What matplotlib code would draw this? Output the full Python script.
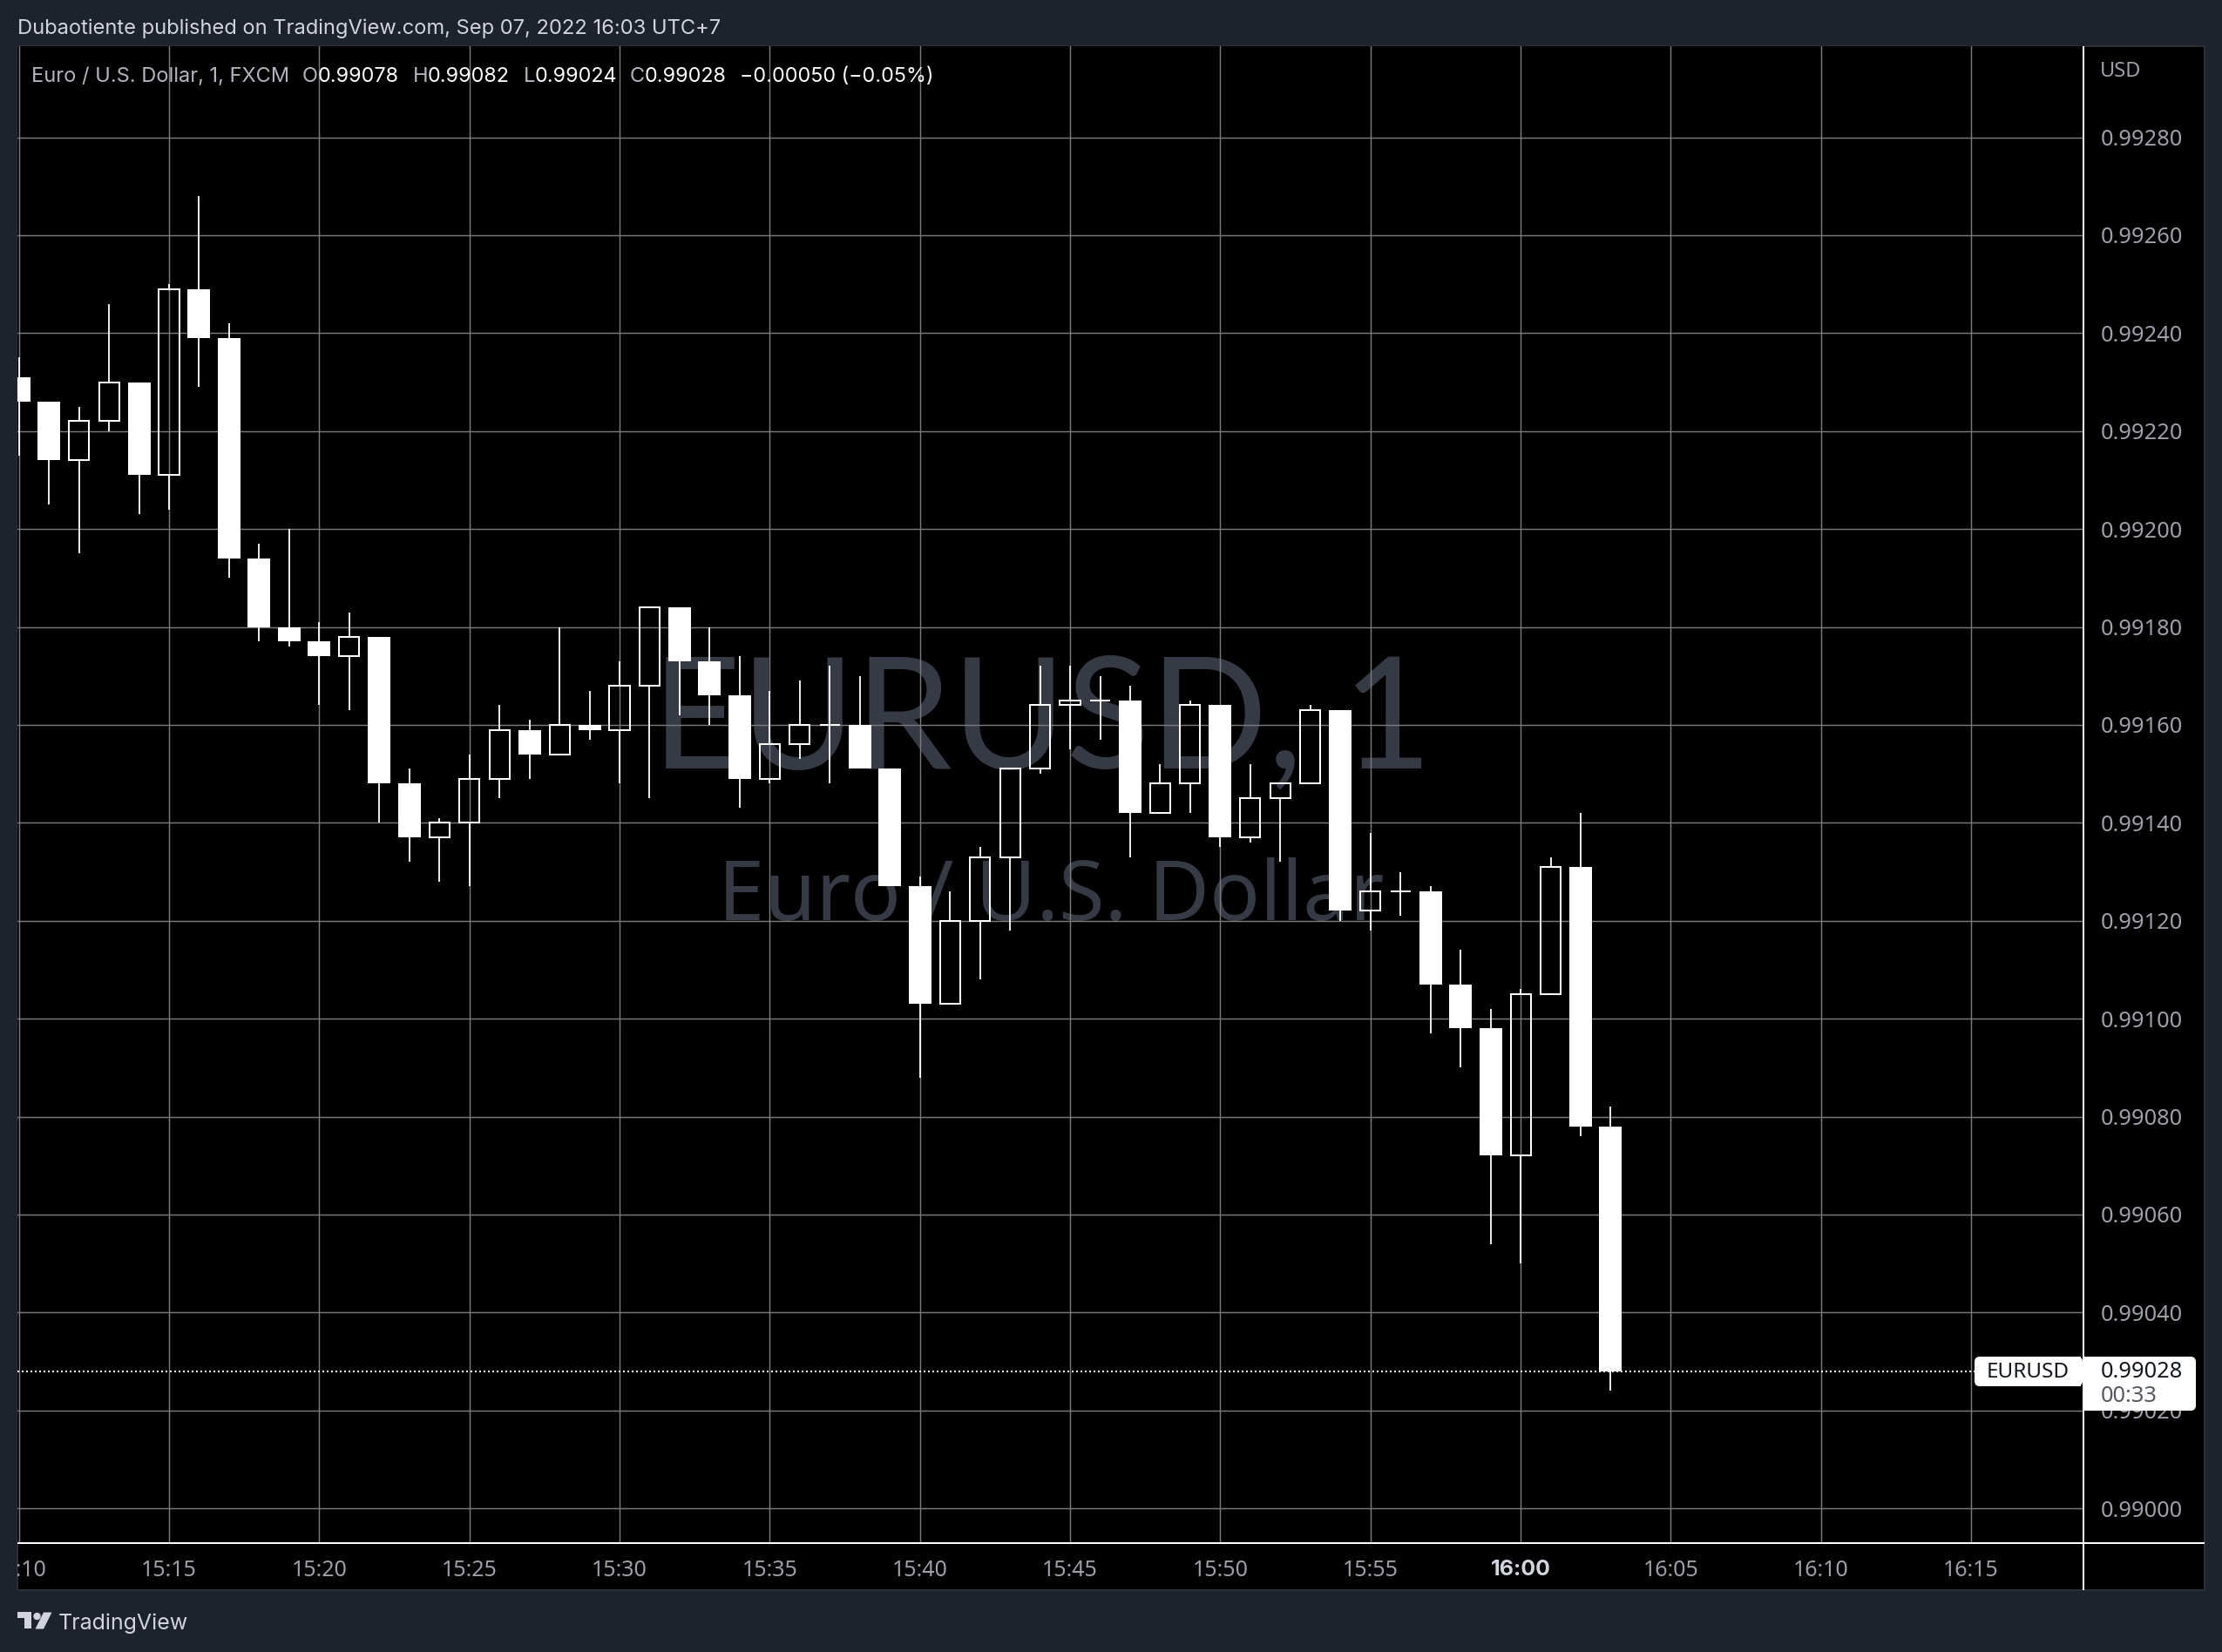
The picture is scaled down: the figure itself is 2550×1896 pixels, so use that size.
import matplotlib
matplotlib.use("Agg")
import matplotlib.pyplot as plt
from matplotlib.patches import Rectangle, FancyBboxPatch, Polygon, Circle
from matplotlib.transforms import Affine2D, Bbox
import numpy as np

# one entry per minute, first candle is 15:10
opens = [99231, 99226, 99214, 99222, 99230, 99211, 99249, 99239, 99194, 99180, 99177, 99174, 99178,
         99148, 99137, 99140, 99149, 99159, 99154, 99160, 99159, 99168, 99184, 99173, 99166, 99149,
         99156, 99160, 99160, 99151, 99127, 99103, 99120, 99133, 99151, 99164, 99165, 99165, 99142,
         99148, 99164, 99137, 99145, 99148, 99163, 99122, 99126, 99126, 99107, 99098, 99072, 99105,
         99131, 99078]
highs = [99235, 99226, 99225, 99246, 99230, 99250, 99268, 99242, 99197, 99200, 99181, 99183, 99178,
         99151, 99141, 99154, 99164, 99161, 99180, 99167, 99173, 99184, 99184, 99180, 99174, 99167,
         99169, 99172, 99170, 99151, 99129, 99126, 99135, 99151, 99172, 99172, 99170, 99168, 99152,
         99165, 99164, 99152, 99148, 99164, 99163, 99138, 99130, 99127, 99114, 99102, 99106, 99133,
         99142, 99082]
lows = [99215, 99205, 99195, 99220, 99203, 99204, 99229, 99190, 99177, 99176, 99164, 99163, 99140,
        99132, 99128, 99127, 99145, 99149, 99154, 99157, 99148, 99145, 99162, 99160, 99143, 99148,
        99153, 99148, 99151, 99127, 99088, 99103, 99108, 99118, 99150, 99155, 99157, 99133, 99142,
        99142, 99135, 99136, 99132, 99148, 99120, 99118, 99121, 99097, 99090, 99054, 99050, 99105,
        99076, 99024]
closes = [99226, 99214, 99222, 99230, 99211, 99249, 99239, 99194, 99180, 99177, 99174, 99178, 99148,
          99137, 99140, 99149, 99159, 99154, 99160, 99159, 99168, 99184, 99173, 99166, 99149, 99156,
          99160, 99160, 99151, 99127, 99103, 99120, 99133, 99151, 99164, 99165, 99165, 99142, 99148,
          99164, 99137, 99145, 99148, 99163, 99122, 99126, 99126, 99107, 99098, 99072, 99105, 99131,
          99078, 99028]

price_ticks = [0.99000, 0.99020, 0.99040, 0.99060, 0.99080, 0.99100, 0.99120, 0.99140,
               0.99160, 0.99180, 0.99200, 0.99220, 0.99240, 0.99260, 0.99280]
time_ticks = [0, 5, 10, 15, 20, 25, 30, 35, 40, 45, 50, 55, 60, 65]
time_labels = ["15:10", "15:15", "15:20", "15:25", "15:30", "15:35", "15:40", "15:45",
               "15:50", "15:55", "16:00", "16:05", "16:10", "16:15"]

BG = "#1e222d"
BORDER = "#2a2e39"
GRID = "#7a7a7a"
WATERMARK = "#363a45"
AXIS_TEXT = "#9da0a8"
AXIS_FONT = "Noto Sans"
W, H = 2550, 1896

plt.rcParams["font.family"] = ["Inter", "DejaVu Sans"]

fig = plt.figure(figsize=(W / 100, H / 100), dpi=100, facecolor=BG)
# pixel coordinates of the reference, y going down
px = Affine2D().scale(1 / W, -1 / H).translate(0, 1) + fig.transFigure

fig.add_artist(Rectangle((20, 53), 2510, 1772, transform=px, facecolor="black",
                         edgecolor=BORDER, linewidth=1.5, zorder=-1))

ax = fig.add_axes([20 / W, 1 - 1771 / H, 2371 / W, 1718 / H])
ax.set_facecolor("black")
for s in ax.spines.values():
    s.set_visible(False)
ax.set_xlim(-0.048, 68.74)
ax.set_ylim(0.989929, 0.992986)
ax.set_axisbelow(True)
ax.grid(True, color=GRID, linewidth=1.05)

ax.yaxis.tick_right()
ax.set_yticks(price_ticks)
ax.set_yticklabels([f"{p:.5f}" for p in price_ticks], family=AXIS_FONT)
ax.set_xticks(time_ticks)
ax.set_xticklabels(time_labels, family=AXIS_FONT)
ax.tick_params(axis="y", length=0, pad=14.4, labelsize=18.3, labelcolor=AXIS_TEXT)
ax.tick_params(axis="x", length=0, pad=13.5, labelsize=18, labelcolor=AXIS_TEXT)
for lbl in ax.get_xticklabels():
    lbl.set_clip_on(True)
    lbl.set_clip_box(Bbox([[20, 0], [W, H]]))
    if lbl.get_text() == "16:00":
        lbl.set_family("Inter")
        lbl.set_fontweight("bold")
        lbl.set_color("#d1d4dc")

# candles
x = np.arange(len(opens))
o = np.array(opens) / 1e5
h = np.array(highs) / 1e5
l = np.array(lows) / 1e5
c = np.array(closes) / 1e5
top = np.maximum(o, c)
bottom = np.minimum(o, c)
down = c < o

ax.vlines(x, top, h, color="white", linewidth=1.3, zorder=3)
ax.vlines(x, l, bottom, color="white", linewidth=1.3, zorder=3)
ax.bar(x[down], (top - bottom)[down], bottom=bottom[down], width=0.755,
       color="white", linewidth=0, zorder=4)
ax.bar(x[~down], (top - bottom)[~down], bottom=bottom[~down], width=0.67,
       facecolor="none", edgecolor="white", linewidth=1.45, zorder=4)

# last price line
ax.hlines(c[-1], -0.05, 65.1, color="white", linewidth=1.44, linestyle=(0, (1, 1.5)), zorder=2)

# watermark
ax.text(1196, 832, "EURUSD, 1", transform=px, ha="center", va="center", fontsize=128,
        family="Lato", color=WATERMARK, zorder=0.2, clip_on=False)
ax.text(1206, 1032, "Euro / U.S. Dollar", transform=px, ha="center", va="center", fontsize=69,
        family="Noto Sans", color=WATERMARK, zorder=0.2, clip_on=False)

# separators of the axis panes
fig.add_artist(Rectangle((20, 1770), 2510, 2, transform=px, facecolor="white", linewidth=0, zorder=5))
fig.add_artist(Rectangle((2390, 53), 2, 1772, transform=px, facecolor="white", linewidth=0, zorder=5))

# header + legend
fig.text(20, 33, "Dubaotiente published on TradingView.com, Sep 07, 2022 16:03 UTC+7", transform=px,
         fontsize=17.05, color="#d1d4dc", va="center", ha="left")
legend_grey = [(36, "Euro / U.S. Dollar, 1, FXCM"), (347, "O"), (474, "H"), (601, "L"), (723, "C")]
legend_white = [(365, "0.99078"), (491, "0.99082"), (614, "0.99024"), (740, "0.99028"),
                (849, "\u22120.00050 (\u22120.05%)")]
for xp, s in legend_grey:
    fig.text(xp, 88, s, transform=px, fontsize=17, color="#b2b5be", va="center", ha="left", zorder=6)
for xp, s in legend_white:
    fig.text(xp, 88, s, transform=px, fontsize=16.8, color="white", va="center", ha="left", zorder=6)

fig.text(2410, 82.5, "USD", transform=px, fontsize=17, color=AXIS_TEXT, va="center", ha="left",
         family=AXIS_FONT, zorder=6)

# price labels
fig.add_artist(FancyBboxPatch((2268, 1559), 120, 30, boxstyle="round,pad=2,rounding_size=6",
                              transform=px, facecolor="white", linewidth=0, zorder=7))
fig.add_artist(Rectangle((2330, 1557), 58, 34, transform=px, facecolor="white", linewidth=0, zorder=7))
fig.add_artist(FancyBboxPatch((2394, 1559), 124, 58, boxstyle="round,pad=2,rounding_size=6",
                              transform=px, facecolor="white", linewidth=0, zorder=7))
fig.add_artist(Rectangle((2392, 1557), 40, 62, transform=px, facecolor="white", linewidth=0, zorder=7))
fig.text(2327, 1575, "EURUSD", transform=px, fontsize=17.5, color="#131722", va="center", ha="center",
         family=AXIS_FONT, zorder=8)
fig.text(2411, 1575, "0.99028", transform=px, fontsize=18.3, color="#131722", va="center", ha="left",
         family=AXIS_FONT, zorder=8)
fig.text(2411, 1603, "00:33", transform=px, fontsize=18.3, color="#555860", va="center", ha="left",
         family=AXIS_FONT, zorder=8)

# logo
LOGO = "#d1d4dc"
fig.add_artist(Polygon([(20, 1850.5), (36, 1850.5), (36, 1869.5), (27.5, 1869.5), (27.5, 1857), (20, 1857)],
                       transform=px, facecolor=LOGO, linewidth=0))
fig.add_artist(Circle((42.5, 1855), 4.2, transform=px, facecolor=LOGO, linewidth=0))
fig.add_artist(Polygon([(50, 1850.5), (59.5, 1850.5), (50, 1869.5), (40.5, 1869.5)],
                       transform=px, facecolor=LOGO, linewidth=0))
fig.text(67, 1863, "TradingView", transform=px, fontsize=18, color=LOGO, va="center", ha="left")

fig.savefig("out.png", dpi=100, facecolor=BG)
